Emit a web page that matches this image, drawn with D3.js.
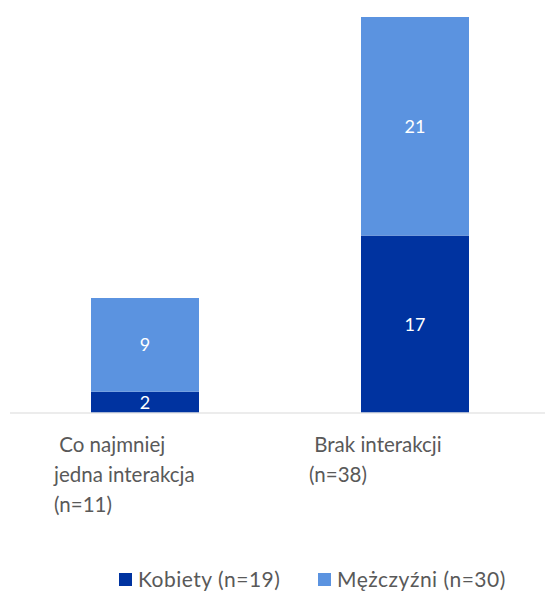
<!DOCTYPE html>
<html>
<head>
<meta charset="utf-8">
<script src="https://cdn.jsdelivr.net/npm/d3@7"></script>
<style>
  html, body { margin: 0; padding: 0; background: #fff; }
  svg { display: block; font-family: "Lato", "Open Sans", sans-serif; }
</style>
</head>
<body>
<svg id="chart" width="545" height="592"></svg>
<script>
// Categories (each wrapped into lines) and stacked series
const categories = ["Co najmniej jedna interakcja (n=11)", "Brak interakcji (n=38)"];
const categoryLines = [[" Co najmniej", "jedna interakcja", "(n=11)"], [" Brak interakcji", "(n=38)"]];
const seriesNames = ["Kobiety (n=19)", "Mężczyźni (n=30)"];
const kobiety = [2, 17];
const mezczyzni = [9, 21];
const colors = ["#0033A0", "#5B93E0"];

(function () {
  const svg = d3.select("#chart");
  const width = 545;
  const baseline = 412.5;
  const plotTop = 17;

  const rows = categories.map((c, i) => ({ cat: c, k: kobiety[i], m: mezczyzni[i] }));
  const stack = d3.stack().keys(["k", "m"])(rows);

  const x = d3.scaleBand().domain(categories).range([10, 550]).paddingInner(0.6).paddingOuter(0.3);
  const yMax = d3.max(rows, d => d.k + d.m);
  const y = d3.scaleLinear().domain([0, yMax]).range([baseline, plotTop]);

  // stacked bars
  const layers = svg.append("g").selectAll("g").data(stack).join("g")
    .attr("fill", (d, i) => colors[i]);
  layers.selectAll("rect").data(d => d).join("rect")
    .attr("x", d => x(d.data.cat))
    .attr("width", x.bandwidth())
    .attr("y", d => y(d[1]))
    .attr("height", d => y(d[0]) - y(d[1]));

  // value labels
  layers.selectAll("text").data(d => d).join("text")
    .attr("x", d => x(d.data.cat) + x.bandwidth() / 2)
    .attr("y", d => (y(d[0]) + y(d[1])) / 2)
    .attr("dy", "0.36em")
    .attr("text-anchor", "middle")
    .attr("fill", "#fff")
    .attr("font-size", 18)
    .text(d => d[1] - d[0]);

  // baseline axis
  svg.append("line")
    .attr("x1", 10).attr("x2", width)
    .attr("y1", baseline + 0.5).attr("y2", baseline + 0.5)
    .attr("stroke", "#d9d9d9").attr("stroke-width", 1);

  // category labels
  const labelShift = [-91, -106];
  categories.forEach((c, i) => {
    const t = svg.append("text")
      .attr("fill", "#595959")
      .attr("font-size", 20.5)
      .style("white-space", "pre");
    categoryLines[i].forEach((line, j) => {
      t.append("tspan")
        .attr("x", x(c) + x.bandwidth() / 2 + labelShift[i])
        .attr("y", 452 + j * 30)
        .text(line);
    });
  });

  // legend
  const legendX = [119, 318];
  seriesNames.forEach((s, i) => {
    const g = svg.append("g").attr("transform", `translate(${legendX[i]},573)`);
    g.append("rect").attr("width", 13).attr("height", 13).attr("fill", colors[i]);
    g.append("text").attr("x", 19).attr("y", 14)
      .attr("fill", "#595959").attr("font-size", 21).attr("letter-spacing", 0.5).text(s);
  });
})();
</script>
</body>
</html>
